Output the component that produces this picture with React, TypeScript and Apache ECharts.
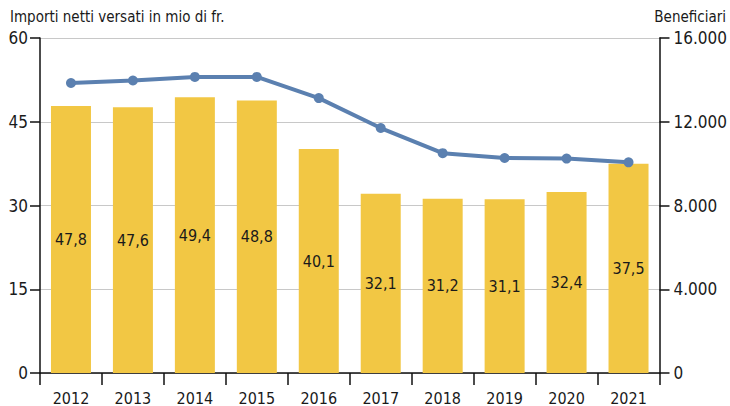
import React, { useEffect, useRef } from "react";
import * as echarts from "echarts";

const years = ["2012", "2013", "2014", "2015", "2016", "2017", "2018", "2019", "2020", "2021"];
const importi = [47.8, 47.6, 49.4, 48.8, 40.1, 32.1, 31.2, 31.1, 32.4, 37.5];
const beneficiari = [13850, 13970, 14140, 14140, 13130, 11700, 10500, 10270, 10240, 10060];
const leftTitle = "Importi netti versati in mio di fr.";
const rightTitle = "Beneficiari";

const FONT = "'Liberation Sans Narrow', 'DejaVu Sans Condensed', sans-serif";

export default function App() {
  const ref = useRef<HTMLDivElement>(null);
  useEffect(() => {
    if (!ref.current) return;
    const chart = echarts.init(ref.current, null, { renderer: "svg" });
    chart.setOption({
      animation: false,
      textStyle: { fontFamily: FONT },
      grid: { left: 40, right: 62, top: 38, bottom: 33, containLabel: false },
      graphic: [
        { type: "text", left: 10, top: 9, style: { text: leftTitle, font: `15px ${FONT}`, fill: "#1a1a1a" } },
        { type: "text", right: 4, top: 9, style: { text: rightTitle, font: `15px ${FONT}`, fill: "#1a1a1a" } },
      ],
      xAxis: {
        type: "category",
        data: years,
        axisLine: { lineStyle: { color: "#111", width: 1.5 } },
        axisTick: { show: true, length: 12, alignWithLabel: false, lineStyle: { color: "#111", width: 1.5 } },
        axisLabel: { color: "#1a1a1a", fontSize: 16, fontFamily: FONT, margin: 17 },
      },
      yAxis: [
        {
          type: "value",
          min: 0,
          max: 60,
          interval: 15,
          axisLine: { show: true, lineStyle: { color: "#111", width: 1.5 } },
          axisTick: { show: true, length: 10, lineStyle: { color: "#111", width: 1.5 } },
          axisLabel: { color: "#1a1a1a", fontSize: 17, fontFamily: FONT, margin: 12 },
          splitLine: { show: true, lineStyle: { color: "#c8c8c8", width: 1 } },
        },
        {
          type: "value",
          min: 0,
          max: 16000,
          interval: 4000,
          position: "right",
          axisLine: { show: true, lineStyle: { color: "#111", width: 1.5 } },
          axisTick: { show: true, length: 10, lineStyle: { color: "#111", width: 1.5 } },
          axisLabel: {
            color: "#1a1a1a",
            fontSize: 17,
            fontFamily: FONT,
            margin: 14,
            formatter: (v: number) => (v === 0 ? "0" : String(v).replace(/(\d)(?=(\d{3})+$)/g, "$1.")),
          },
          splitLine: { show: false },
        },
      ],
      series: [
        {
          type: "bar",
          data: importi,
          barWidth: 40,
          itemStyle: { color: "#F2C744" },
          label: {
            show: true,
            position: "inside",
            color: "#1a1a1a",
            fontSize: 16,
            fontFamily: FONT,
            formatter: (p: any) => String(p.value).replace(".", ","),
          },
        },
        {
          type: "line",
          yAxisIndex: 1,
          data: beneficiari,
          symbol: "circle",
          symbolSize: 10,
          lineStyle: { color: "#5B80B0", width: 4 },
          itemStyle: { color: "#5B80B0" },
        },
      ],
    });
    return () => chart.dispose();
  }, []);
  return <div ref={ref} style={{ width: 730, height: 406, position: "absolute", left: 0, top: 0 }} />;
}
